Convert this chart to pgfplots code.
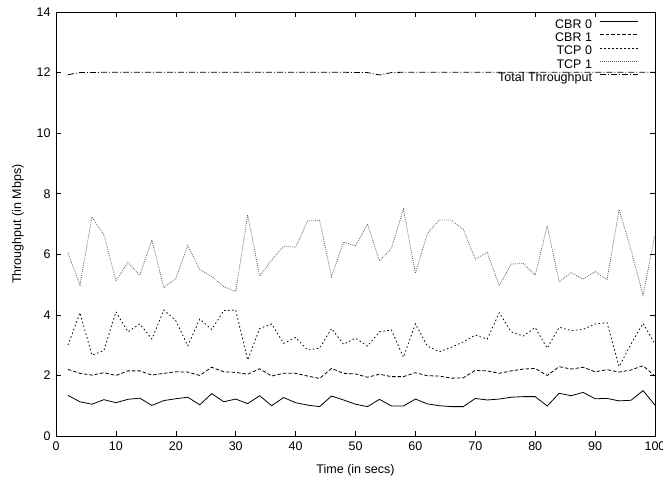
\documentclass[border=0pt]{standalone}
\usepackage{fontspec}
\setmainfont{Liberation Sans}
\usepackage{pgfplots}
\pgfplotsset{compat=1.18}

\pgfplotstableread{
t   cbr0  cbr1  tcp0  tcp1  total
2   1.34  2.20  3.00  6.05  11.93
4   1.13  2.07  4.07  4.98  12.00
6   1.05  2.01  2.67  7.23  12.00
8   1.20  2.09  2.82  6.64  12.01
10  1.10  2.00  4.10  5.13  12.01
12  1.21  2.15  3.44  5.73  12.01
14  1.25  2.15  3.70  5.31  12.01
16  1.01  2.01  3.20  6.47  12.01
18  1.17  2.07  4.16  4.90  12.01
20  1.23  2.12  3.81  5.20  12.01
22  1.28  2.11  2.98  6.29  12.01
24  1.03  2.00  3.86  5.50  12.01
26  1.40  2.27  3.52  5.27  12.01
28  1.13  2.12  4.14  4.93  12.01
30  1.22  2.10  4.16  4.77  12.01
32  1.07  2.04  2.51  7.30  12.01
34  1.33  2.22  3.55  5.28  12.01
36  1.00  1.98  3.70  5.81  12.01
38  1.27  2.07  3.06  6.27  12.01
40  1.10  2.07  3.25  6.23  12.01
42  1.02  1.98  2.84  7.10  12.01
44  0.97  1.90  2.90  7.12  12.01
46  1.32  2.23  3.55  5.26  12.01
48  1.19  2.07  3.03  6.41  12.01
50  1.05  2.05  3.23  6.27  12.00
52  0.97  1.94  2.97  7.00  12.00
54  1.21  2.04  3.44  5.78  11.92
56  0.99  1.96  3.50  6.20  12.00
58  0.99  1.96  2.60  7.49  12.01
60  1.22  2.09  3.70  5.37  12.01
62  1.06  1.99  2.97  6.69  12.01
64  1.00  1.98  2.78  7.13  12.01
66  0.97  1.91  2.93  7.13  12.01
68  0.97  1.92  3.11  6.82  12.01
70  1.24  2.17  3.33  5.84  12.01
72  1.19  2.15  3.20  6.06  12.01
74  1.22  2.07  4.07  4.96  12.01
76  1.28  2.15  3.44  5.68  12.01
78  1.30  2.21  3.30  5.70  12.01
80  1.30  2.23  3.58  5.31  12.01
82  0.99  2.00  2.90  6.94  12.01
84  1.41  2.29  3.59  5.09  12.01
86  1.33  2.21  3.48  5.39  12.01
88  1.44  2.27  3.52  5.18  12.01
90  1.23  2.12  3.70  5.43  12.01
92  1.24  2.19  3.74  5.17  12.01
94  1.16  2.11  2.29  7.48  12.01
96  1.18  2.18  3.04  6.14  12.01
98  1.50  2.32  3.72  4.65  12.01
100 1.02  1.98  3.04  6.64  12.01
}\datatable

\begin{document}
\begin{tikzpicture}
\useasboundingbox (-56pt,-46pt) rectangle (607pt,436pt);
\begin{axis}[
  scale only axis,
  width=599pt, height=424pt,
  anchor=south west, at={(0,0)},
  xmin=0, xmax=100, ymin=0, ymax=14,
  xtick={0,10,...,100}, ytick={0,2,...,14},
  minor tick num=0,
  major tick length=5pt,
  tick style={black, line width=0.6pt},
  axis line style={line width=0.6pt},
  font=\fontsize{12.5}{14}\selectfont,
  /pgf/number format/assume math mode=true,
  xticklabel style={yshift=-2pt},
  yticklabel style={xshift=-2pt},
  xlabel={Time (in secs)},
  ylabel={Throughput (in Mbps)},
  every axis x label/.style={at={([yshift=-34pt]axis description cs:0.5,0)}, anchor=center},
  every axis y label/.style={at={([xshift=-38pt]axis description cs:0,0.5)}, anchor=center, rotate=90},
  legend plot pos=right,
  legend cell align=right,
  legend image code/.code={\draw[#1] (0pt,3.5pt) -- (38pt,3.5pt);},
  legend style={draw=none, fill=none, at={(1,1)}, anchor=north east,
    xshift=-16pt, yshift=-6pt, inner sep=0pt, row sep=0pt, column sep=7pt,
    nodes={inner sep=1pt, text height=9pt, text depth=2.3pt},
    font=\fontsize{12.5}{14}\selectfont},
]
\addplot[black, line width=0.8pt, solid] table[x=t, y=cbr0] {\datatable};
\addlegendentry{CBR 0}
\addplot[black, line width=0.8pt, dash pattern=on 3.5pt off 2pt] table[x=t, y=cbr1] {\datatable};
\addlegendentry{CBR 1}
\addplot[black, line width=0.8pt, dash pattern=on 1.5pt off 2.5pt] table[x=t, y=tcp0] {\datatable};
\addlegendentry{TCP 0}
\addplot[black!65, line width=0.8pt, dash pattern=on 0.8pt off 1.2pt] table[x=t, y=tcp1] {\datatable};
\addlegendentry{TCP 1}
\addplot[black, line width=0.8pt, dash pattern=on 6pt off 2pt on 1pt off 2pt] table[x=t, y=total] {\datatable};
\addlegendentry{Total Throughput}
\end{axis}
\end{tikzpicture}
\end{document}
